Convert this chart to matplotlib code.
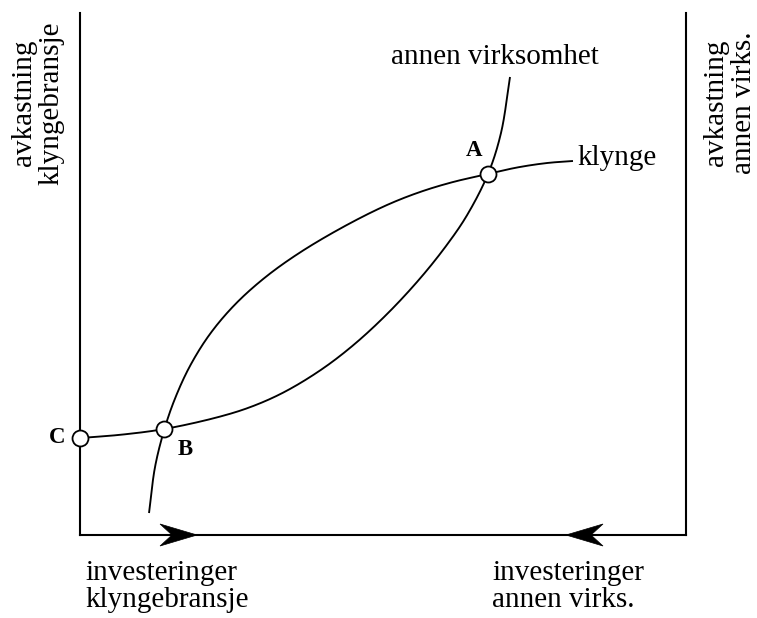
import numpy as np
import matplotlib
matplotlib.use("Agg")
import matplotlib.pyplot as plt
from matplotlib.patches import Polygon

# Investment share (0 = left axis, 100 = right axis) and return level (0-100)
CLUSTER_X = [11.39, 12.38, 13.94, 15.68, 18.15, 21.45, 25.58, 30.53, 36.30, 43.73,
             50.66, 56.11, 61.55, 67.33, 72.11, 77.06, 81.35]
CLUSTER_Y = [4.21, 13.03, 20.31, 26.15, 32.38, 38.51, 44.16, 49.33, 54.12, 59.20,
             63.22, 65.71, 67.62, 69.16, 70.40, 71.26, 71.65]

OTHER_X = [0.00, 6.93, 13.94, 22.61, 28.05, 33.50, 39.60, 45.05, 50.66, 56.11,
           60.56, 63.86, 67.33, 69.47, 70.96]
OTHER_Y = [18.58, 19.23, 20.31, 22.53, 24.48, 27.26, 31.51, 36.32, 42.32, 49.14,
           55.61, 61.25, 69.16, 77.01, 87.74]

POINT_NAMES = ["A", "B", "C"]
POINT_X = [67.33, 13.94, 0.00]
POINT_Y = [69.16, 20.31, 18.58]

CLUSTER_LABEL = "klynge"
OTHER_LABEL = "annen virksomhet"
LEFT_AXIS_LABEL = ["avkastning", "klyngebransje"]
RIGHT_AXIS_LABEL = ["avkastning", "annen virks."]
LEFT_INVEST_LABEL = ["investeringer", "klyngebransje"]
RIGHT_INVEST_LABEL = ["investeringer", "annen virks."]

# Direction arrows on the investment axis (tip positions)
ARROW_RIGHT_TIP = 19.31
ARROW_LEFT_TIP = 80.20


def catmull_rom(xs, ys, samples=60):
    """Centripetal Catmull-Rom curve through the given points."""
    P = np.column_stack([xs, ys]).astype(float)
    P = np.vstack([2 * P[0] - P[1], P, 2 * P[-1] - P[-2]])
    out = []
    for i in range(1, len(P) - 2):
        p0, p1, p2, p3 = P[i - 1], P[i], P[i + 1], P[i + 2]
        t0 = 0.0
        t1 = t0 + np.linalg.norm(p1 - p0) ** 0.5
        t2 = t1 + np.linalg.norm(p2 - p1) ** 0.5
        t3 = t2 + np.linalg.norm(p3 - p2) ** 0.5
        t = np.linspace(t1, t2, samples)[:, None]
        a1 = (t1 - t) / (t1 - t0) * p0 + (t - t0) / (t1 - t0) * p1
        a2 = (t2 - t) / (t2 - t1) * p1 + (t - t1) / (t2 - t1) * p2
        a3 = (t3 - t) / (t3 - t2) * p2 + (t - t2) / (t3 - t2) * p3
        b1 = (t2 - t) / (t2 - t0) * a1 + (t - t0) / (t2 - t0) * a2
        b2 = (t3 - t) / (t3 - t1) * a2 + (t - t1) / (t3 - t1) * a3
        c = (t2 - t) / (t2 - t1) * b1 + (t - t1) / (t2 - t1) * b2
        out.append(c if i == 1 else c[1:])
    pts = np.vstack(out)
    return pts[:, 0], pts[:, 1]


W, H = 757, 618
fig = plt.figure(figsize=(W / 100, H / 100), dpi=100)
fig.patch.set_facecolor("white")
ax = fig.add_axes([80 / W, 83 / H, 606 / W, 522 / H])
ax.set_xlim(0, 100)
ax.set_ylim(0, 100)
ax.set_xticks([])
ax.set_yticks([])
ax.spines["top"].set_visible(False)
for s in ("left", "right", "bottom"):
    ax.spines[s].set_linewidth(1.5)
    ax.spines[s].set_color("black")

# units per pixel
ux = 100 / 606
uy = 100 / 522

serif = ["Liberation Serif", "DejaVu Serif"]
fs = 21
fs_pt = 16.5

# Curves
cx, cy = catmull_rom(CLUSTER_X, CLUSTER_Y)
ox, oy = catmull_rom(OTHER_X, OTHER_Y)
ax.plot(cx, cy, color="black", lw=1.35, solid_capstyle="butt", zorder=3)
ax.plot(ox, oy, color="black", lw=1.35, solid_capstyle="butt", zorder=3, clip_on=False)

# Equilibrium points
ax.plot(POINT_X, POINT_Y, "o", ms=11.5, mfc="white", mec="black", mew=1.3,
        zorder=5, clip_on=False)

# Point letters
label_offsets = {"A": (-14, 23), "B": (21, -21), "C": (-23, 1)}
for name, px, py in zip(POINT_NAMES, POINT_X, POINT_Y):
    dx, dy = label_offsets[name]
    ax.text(px + dx * ux, py + dy * uy, name, family=serif, fontsize=fs_pt,
            fontweight="bold", ha="center", va="center", clip_on=False)

# Curve labels
ax.text(CLUSTER_X[-1] + 4 * ux, CLUSTER_Y[-1] - 4 * uy, CLUSTER_LABEL, family=serif,
        fontsize=fs, ha="left", va="baseline", clip_on=False)
ax.text(OTHER_X[-1] - 15 * ux, OTHER_Y[-1] + 13 * uy, OTHER_LABEL, family=serif,
        fontsize=fs, ha="center", va="baseline", clip_on=False)

# Vertical axis labels
vy = (535 - 103) * uy
for i, line in enumerate(LEFT_AXIS_LABEL):
    ax.text(-(49 - 27 * i) * ux, vy, line, family=serif, fontsize=fs, rotation=90,
            rotation_mode="anchor", ha="center", va="baseline", clip_on=False)
for i, line in enumerate(RIGHT_AXIS_LABEL):
    ax.text(100 + (37 + 28 * i) * ux, vy, line, family=serif, fontsize=fs, rotation=90,
            rotation_mode="anchor", ha="center", va="baseline", clip_on=False)

# Investment labels
for i, line in enumerate(LEFT_INVEST_LABEL):
    ax.text(5 * ux, -(45 + 27 * i) * uy, line, family=serif, fontsize=fs,
            ha="left", va="baseline", clip_on=False)
for i, line in enumerate(RIGHT_INVEST_LABEL):
    ax.text(ARROW_LEFT_TIP - 74 * ux, -(45 + 27 * i) * uy, line, family=serif,
            fontsize=fs, ha="left", va="baseline", clip_on=False)


def stealth_arrow(tip, direction):
    L, hw, notch = 37, 11, 25
    shape = np.array([[0, 0], [-L, hw], [-notch, 0], [-L, -hw]], dtype=float)
    shape[:, 0] *= direction * ux
    shape[:, 1] *= uy
    shape[:, 0] += tip
    ax.add_patch(Polygon(shape, closed=True, facecolor="black", edgecolor="black",
                         lw=0.5, zorder=6, clip_on=False))


stealth_arrow(ARROW_RIGHT_TIP, 1)
stealth_arrow(ARROW_LEFT_TIP, -1)

fig.savefig("out.png", dpi=100, facecolor="white")
